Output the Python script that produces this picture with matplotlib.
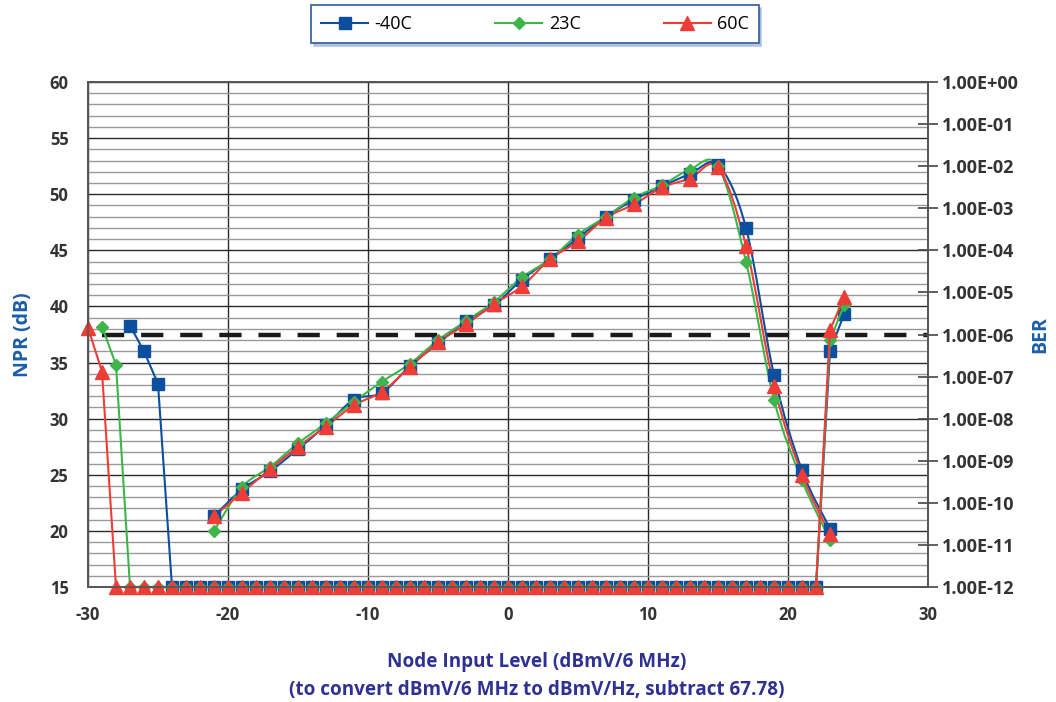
import numpy as np
import matplotlib
matplotlib.use('Agg')
import matplotlib.pyplot as plt
from matplotlib.path import Path
from matplotlib.patches import PathPatch

plt.rcParams['font.family'] = ['Open Sans', 'DejaVu Sans']
plt.rcParams['font.weight'] = 'bold'
plt.rcParams['axes.unicode_minus'] = False

# low-input / high-input branch (straight lines, 15 = floor of the chart)
x_blue_a = [-27, -26, -25] + list(range(-24, 23)) + [23, 24]
y_blue_a = [38.3, 36.0, 33.1] + [15] * 47 + [36.0, 39.3]
x_green_a = [-29, -28] + list(range(-27, 23)) + [23, 24]
y_green_a = [38.2, 34.8] + [15] * 50 + [37.0, 40.1]
x_red_a = [-30, -29] + list(range(-28, 23)) + [23, 24]
y_red_a = [38.1, 34.2] + [15] * 51 + [37.9, 40.8]

# NPR curve (smoothed lines)
x_curve = [-21, -19, -17, -15, -13, -11, -9, -7, -5, -3, -1, 1, 3, 5, 7, 9, 11, 13, 15, 17, 19, 21, 23]
y_blue = [21.3, 23.7, 25.3, 27.3, 29.4, 31.7, 32.3, 34.7, 36.7, 38.7, 40.1, 42.4, 44.2, 46.1, 48.0, 49.5, 50.7, 51.8, 52.6, 47.0, 33.9, 25.4, 20.2]
y_green = [20.0, 23.9, 25.7, 27.8, 29.6, 31.5, 33.3, 34.9, 37.0, 38.7, 40.4, 42.6, 44.2, 46.4, 48.0, 49.7, 50.8, 52.2, 52.5, 44.0, 31.7, 24.5, 19.2]
y_red = [21.3, 23.4, 25.5, 27.5, 29.3, 31.2, 32.4, 34.6, 36.8, 38.4, 40.2, 41.8, 44.2, 45.8, 47.9, 49.1, 50.6, 51.4, 52.4, 45.4, 32.9, 25.0, 19.7]

ber_limit = 1e-6
ber_ticks = [10.0 ** e for e in range(-12, 1)]

c_blue = '#0b4f9e'
c_green = '#3db54a'
c_red = '#ee3d36'


def smooth_path(xs, ys):
    # excel-like smoothed line as bezier segments
    pts = np.column_stack([xs, ys]).astype(float)
    n = len(pts)
    verts = [pts[0]]
    codes = [Path.MOVETO]
    for i in range(n - 1):
        p0 = pts[i - 1] if i > 0 else pts[i]
        p1 = pts[i]
        p2 = pts[i + 1]
        p3 = pts[i + 2] if i + 2 < n else pts[i + 1]
        c1 = p1 + (p2 - p0) / 6.0
        c2 = p2 - (p3 - p1) / 6.0
        verts += [c1, c2, p2]
        codes += [Path.CURVE4] * 3
    return Path(verts, codes)


fig = plt.figure(figsize=(10.56, 7.02), dpi=100)
ax = fig.add_axes([88 / 1056, 1 - 587 / 702, 840 / 1056, 505 / 702])

ax.set_xlim(-30, 30)
ax.set_ylim(15, 60)
ax.set_xticks(range(-30, 31, 10))
ax.set_xticks(range(-30, 31, 2), minor=True)
ax.set_yticks(range(15, 61, 5))
ax.set_yticks(range(15, 61, 1), minor=True)
ax.grid(which='minor', color='#999999', lw=1.0)
ax.grid(which='major', color='#2a2a2a', lw=1.0)
ax.set_axisbelow(True)
ax.tick_params(which='both', length=0, labelsize=12, labelcolor='#333333', pad=14)
ax.tick_params(axis='x', pad=14)
for s in ax.spines.values():
    s.set_color('#555555')
    s.set_linewidth(1.2)

ax.hlines(37.5, -29, 30, colors='#1a1a1a', lw=3.2, linestyles=(0, (5, 3.8)), zorder=2)

styles = [
    (c_blue, 's', 8.5, '-40C', x_blue_a, y_blue_a, y_blue),
    (c_green, 'D', 6.5, '23C', x_green_a, y_green_a, y_green),
    (c_red, '^', 10.5, '60C', x_red_a, y_red_a, y_red),
]
handles = []
for col, mk, ms, lab, xa, ya, yc in styles:
    h, = ax.plot(xa, ya, color=col, marker=mk, ms=ms, lw=1.5, mec=col, label=lab,
                 clip_on=False, zorder=3)
    handles.append(h)
    ax.add_patch(PathPatch(smooth_path(x_curve, yc), fill=False, edgecolor=col, lw=1.5, zorder=3))
    ax.plot(x_curve, yc, ls='none', marker=mk, ms=ms, color=col, mec=col, zorder=4)

ax.set_ylabel('NPR (dB)', color='#1b5ea9', fontsize=14, fontweight='bold', labelpad=12)

ax2 = ax.twinx()
ax2.set_yscale('log')
ax2.set_ylim(1e-12, 1)
ax2.set_yticks(ber_ticks)
ax2.set_yticklabels(['%.2E' % v for v in ber_ticks])
ax2.minorticks_off()
ax2.tick_params(axis='y', direction='inout', length=14, width=1.2, color='#444444',
                labelsize=13, labelcolor='#333333', pad=3)
for s in ax2.spines.values():
    s.set_color('#555555')
    s.set_linewidth(1.2)
ax2.set_ylabel('BER', color='#1b5ea9', fontsize=14, fontweight='bold', labelpad=8)

fig.text(537 / 1056, 1 - 662 / 702, 'Node Input Level (dBmV/6 MHz)', ha='center', va='center',
         fontsize=13.6, color='#2e3192', fontweight='bold')
fig.text(537 / 1056, 1 - 690 / 702, '(to convert dBmV/6 MHz to dBmV/Hz, subtract 67.78)',
         ha='center', va='center', fontsize=13.6, color='#2e3192', fontweight='bold')

leg = fig.legend(handles=handles, loc='center', bbox_to_anchor=(535 / 1056, 1 - 24 / 702), ncol=3,
                 fancybox=False, shadow={'color': '#9fb3d6', 'alpha': 0.7}, edgecolor='#2b5c9e',
                 handlelength=2.6, handletextpad=0.35, columnspacing=4.6, borderpad=0.55,
                 borderaxespad=0, prop={'weight': 'normal', 'size': 13})
leg.get_frame().set_linewidth(1.2)

fig.savefig('out.png', dpi=100)
